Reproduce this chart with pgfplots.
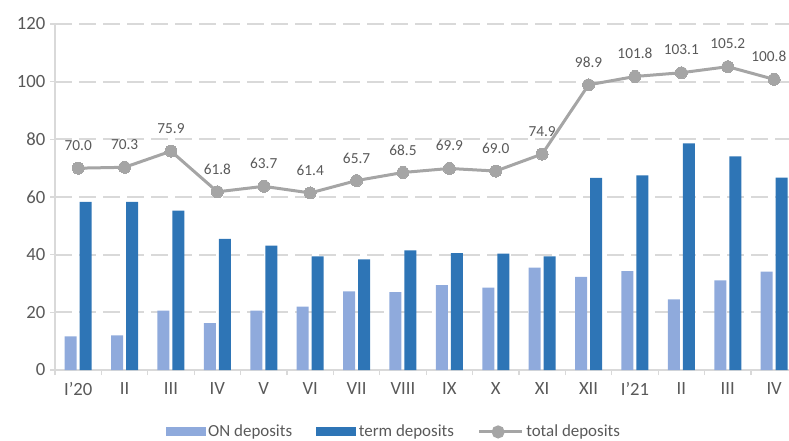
\documentclass[border=0pt]{standalone}
\usepackage{fontspec}
\setmainfont{Carlito}
\usepackage{pgfplots}
\pgfplotsset{compat=1.18}
\definecolor{onc}{HTML}{8FAADC}
\definecolor{termc}{HTML}{2E75B6}
\definecolor{totc}{HTML}{A5A5A5}
\definecolor{txt}{HTML}{595959}
\definecolor{gridc}{HTML}{D9D9D9}
\begin{document}
\begin{tikzpicture}
\path[use as bounding box] (-41.25pt,-52.5pt) rectangle (550.5pt,277.5pt);
\begin{axis}[
  at={(0pt,0pt)}, anchor=south west,
  scale only axis, width=550.5pt, height=259.5pt,
  xmin=-0.5, xmax=15.32, ymin=0, ymax=120,
  ytick={0,20,...,120},
  xtick={-0.5,0.5,...,15.5},
  xticklabels={},
  extra x ticks={0,1,...,15},
  extra x tick labels={I'20,II,III,IV,V,VI,VII,VIII,IX,X,XI,XII,I'21,II,III,IV},
  extra x tick style={major tick length=0pt, grid=none},
  xticklabel style={yshift=-6pt},
  axis x line*=bottom, axis y line*=left,
  axis line style={gridc, line width=0.9pt},
  tick style={gridc, line width=0.9pt},
  major tick length=3.75pt, tick align=outside,
  ymajorgrids=true,
  grid style={gridc, line width=1.3pt, dash pattern=on 12.5pt off 5.5pt},
  tick label style={font=\fontsize{14}{16}\selectfont, text=txt},
  /pgf/number format/assume math mode=true,
  clip=false,
  legend style={at={(0.462,-0.179)}, anchor=center, draw=none, fill=none,
    legend columns=3, font=\fontsize{12.7}{15}\selectfont, text=txt,
    /tikz/every odd column/.append style={column sep=0pt},
    /tikz/every even column/.append style={column sep=16pt}},
  legend cell align=left,
]
\addplot[ybar, bar width=9pt, bar shift=-5.625pt, fill=onc, draw=none,
  legend image code/.code={\fill[onc] (0pt,-3.4pt) rectangle (30pt,3.4pt);}]
coordinates {(0,11.7)(1,12.0)(2,20.6)(3,16.3)(4,20.6)(5,22.0)(6,27.3)(7,27.0)(8,29.4)(9,28.6)(10,35.5)(11,32.3)(12,34.3)(13,24.5)(14,31.1)(15,34.1)};
\addlegendentry{ON deposits}
\addplot[ybar, bar width=9pt, bar shift=5.625pt, fill=termc, draw=none,
  legend image code/.code={\fill[termc] (0pt,-3.4pt) rectangle (30pt,3.4pt);}]
coordinates {(0,58.3)(1,58.3)(2,55.3)(3,45.5)(4,43.1)(5,39.4)(6,38.4)(7,41.5)(8,40.5)(9,40.4)(10,39.4)(11,66.6)(12,67.5)(13,78.6)(14,74.1)(15,66.7)};
\addlegendentry{term deposits}
\addplot[totc, line width=2.25pt, mark=*, mark size=4.5pt,
  mark options={fill=totc, draw=totc, line width=0pt},
  visualization depends on={x \as \xval},
  nodes near coords,
  nodes near coords style={anchor=center, yshift=17pt,
    xshift={ifthenelse(\xval>14.5,-4,0)},
    text=txt,
    font=\fontsize{11.5}{13}\selectfont,
    /pgf/number format/.cd, fixed, fixed zerofill, precision=1, assume math mode=true},
  legend image code/.code={\draw[totc, line width=2.25pt] (0pt,0pt) -- (32pt,0pt);
    \fill[totc] (14pt,0pt) circle (3.75pt);}]
coordinates {(0,70.0)(1,70.3)(2,75.9)(3,61.8)(4,63.7)(5,61.4)(6,65.7)(7,68.5)(8,69.9)(9,69.0)(10,74.9)(11,98.9)(12,101.8)(13,103.1)(14,105.2)(15,100.8)};
\addlegendentry{total deposits}
\end{axis}
\end{tikzpicture}
\end{document}
